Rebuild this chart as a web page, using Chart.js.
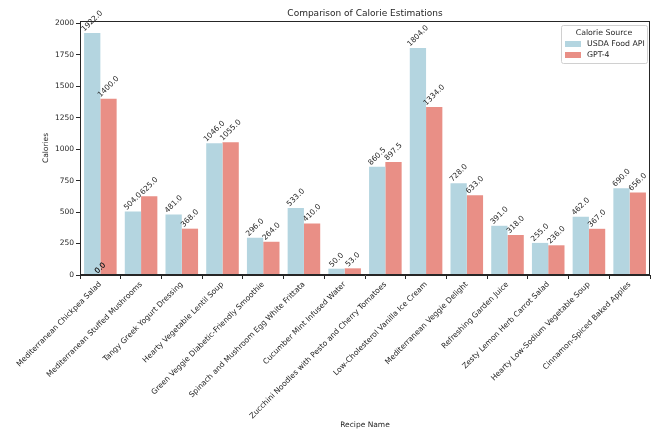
<!DOCTYPE html>
<html>
<head>
<meta charset="utf-8">
<script src="https://cdn.jsdelivr.net/npm/chart.js@4.4.1/dist/chart.umd.min.js"></script>
<style>
  html, body { margin: 0; padding: 0; background: #ffffff; }
  #wrap { width: 653px; height: 432px; }
</style>
</head>
<body>
<div id="wrap"><canvas id="chart" width="653" height="432"></canvas></div>
<script>
// ─── Data ──────────────────────────────────────────────────────────────────────
const recipes = [
    "Mediterranean Chickpea Salad",
    "Mediterranean Stuffed Mushrooms",
    "Tangy Greek Yogurt Dressing",
    "Hearty Vegetable Lentil Soup",
    "Green Veggie Diabetic-Friendly Smoothie",
    "Spinach and Mushroom Egg White Frittata",
    "Cucumber Mint Infused Water",
    "Zucchini Noodles with Pesto and Cherry Tomatoes",
    "Low-Cholesterol Vanilla Ice Cream",
    "Mediterranean Veggie Delight",
    "Refreshing Garden Juice",
    "Zesty Lemon Herb Carrot Salad",
    "Hearty Low-Sodium Vegetable Soup",
    "Cinnamon-Spiced Baked Apples",
];
const usdaCalories = [1922, 504, 481, 1046, 296, 533, 50, 860.5, 1804, 728, 391, 255, 462, 690];
const gpt4Calories = [1400, 625, 368, 1055, 264, 410, 53, 897.5, 1334, 633, 318, 236, 367, 656];
// stray "0.0" annotations sitting at the first category's baseline
const strayLabelIndex = [0, 0];
const strayLabelValue = [0, 0];
const yTicks = [0, 250, 500, 750, 1000, 1250, 1500, 1750, 2000];

const FONT = "'DejaVu Sans', sans-serif";
const INK = "#262626";

// ─── Plugins ──────────────────────────────────────────────────────────────────

// matplotlib centres the title over the axes, not the canvas
const plotTitle = {
    id: "plotTitle",
    afterDraw(chart) {
        const { ctx, chartArea: a } = chart;
        ctx.save();
        ctx.font = `9px ${FONT}`;
        ctx.fillStyle = INK;
        ctx.textAlign = "center";
        ctx.textBaseline = "middle";
        ctx.fillText("Comparison of Calorie Estimations", (a.left + a.right) / 2, 14);
        ctx.restore();
    },
};

const frame = {
    id: "frame",
    afterDraw(chart) {
        const { ctx, chartArea: a } = chart;
        ctx.save();
        ctx.strokeStyle = INK;
        ctx.lineWidth = 1;
        ctx.strokeRect(a.left + 0.5, a.top + 0.5, a.right - a.left - 1, a.bottom - a.top - 1);
        ctx.restore();
    },
};

function rotatedLabel(ctx, text, x, y) {
    const w = ctx.measureText(text).width;
    const h = 7.5;
    const half = (w + h) / (2 * Math.SQRT2);
    ctx.save();
    ctx.translate(x, y - half);
    ctx.rotate(-Math.PI / 4);
    ctx.fillText(text, 0, 0);
    ctx.restore();
}

const valueLabels = {
    id: "valueLabels",
    afterDatasetsDraw(chart) {
        const { ctx } = chart;
        ctx.save();
        ctx.font = `7.5px ${FONT}`;
        ctx.fillStyle = INK;
        ctx.textAlign = "center";
        ctx.textBaseline = "middle";
        chart.data.datasets.forEach((ds, i) => {
            chart.getDatasetMeta(i).data.forEach((bar, j) => {
                rotatedLabel(ctx, ds.data[j].toFixed(1), bar.x, bar.y);
            });
        });
        const xs = chart.scales.x, ys = chart.scales.y;
        strayLabelIndex.forEach((idx, k) => {
            rotatedLabel(ctx, strayLabelValue[k].toFixed(1),
                xs.getPixelForValue(idx), ys.getPixelForValue(strayLabelValue[k]));
        });
        ctx.restore();
    },
};

const boxLegend = {
    id: "boxLegend",
    afterDraw(chart) {
        const { ctx, chartArea: a } = chart;
        const w = 86, h = 38;
        const x0 = a.right - w - 3, y0 = a.top + 4;
        ctx.save();
        ctx.fillStyle = "rgba(255,255,255,0.8)";
        ctx.strokeStyle = "#d0d0d0";
        ctx.lineWidth = 1;
        ctx.beginPath();
        ctx.roundRect(x0 + 0.5, y0 + 0.5, w, h, 2);
        ctx.fill();
        ctx.stroke();
        ctx.fillStyle = INK;
        ctx.font = `7.8px ${FONT}`;
        ctx.textBaseline = "middle";
        ctx.textAlign = "center";
        ctx.fillText("Calorie Source", x0 + w / 2, y0 + 8);
        ctx.textAlign = "left";
        chart.data.datasets.forEach((ds, i) => {
            const cy = y0 + 19 + i * 11;
            ctx.fillStyle = ds.backgroundColor;
            ctx.fillRect(x0 + 4, cy - 3, 16, 6);
            ctx.fillStyle = INK;
            ctx.fillText(ds.label, x0 + 26, cy);
        });
        ctx.restore();
    },
};

// ─── Chart ────────────────────────────────────────────────────────────────────

new Chart(document.getElementById("chart"), {
    type: "bar",
    data: {
        labels: recipes,
        datasets: [
            { label: "USDA Food API", data: usdaCalories, backgroundColor: "#b4d5e0" },
            { label: "GPT-4", data: gpt4Calories, backgroundColor: "#e98f86" },
        ],
    },
    options: {
        responsive: false,
        devicePixelRatio: 1,
        animation: false,
        datasets: { bar: { categoryPercentage: 0.8, barPercentage: 1.0, borderWidth: 0 } },
        layout: { padding: { left: 42, right: 3, top: 21, bottom: 0 } },
        plugins: {
            legend: { display: false },
            tooltip: { enabled: false },
            title: { display: false },
        },
        scales: {
            x: {
                afterFit: (s) => { s.height = 157; },
                grid: { display: true, drawOnChartArea: false, drawTicks: true, tickLength: 4, color: INK },
                border: { display: true, color: INK },
                ticks: {
                    autoSkip: false,
                    minRotation: 45,
                    maxRotation: 45,
                    padding: 1,
                    color: INK,
                    font: { size: 7.6, family: FONT },
                },
                title: {
                    display: true,
                    text: "Recipe Name",
                    color: INK,
                    font: { size: 7.5, family: FONT },
                    padding: { top: 0, bottom: 2 },
                },
            },
            y: {
                min: 0,
                max: 2018,
                afterFit: (s) => { s.width = 38; },
                afterBuildTicks: (s) => { s.ticks = yTicks.map((v) => ({ value: v })); },
                grid: { display: true, drawOnChartArea: false, drawTicks: true, tickLength: 4, color: INK },
                border: { display: true, color: INK },
                ticks: {
                    padding: 2,
                    color: INK,
                    font: { size: 7.5, family: FONT },
                    callback: (v) => String(v),
                },
                title: {
                    display: true,
                    text: "Calories",
                    color: INK,
                    font: { size: 7.5, family: FONT },
                    padding: { top: 0, bottom: 0 },
                },
            },
        },
    },
    plugins: [plotTitle, frame, valueLabels, boxLegend],
});
</script>
</body>
</html>
